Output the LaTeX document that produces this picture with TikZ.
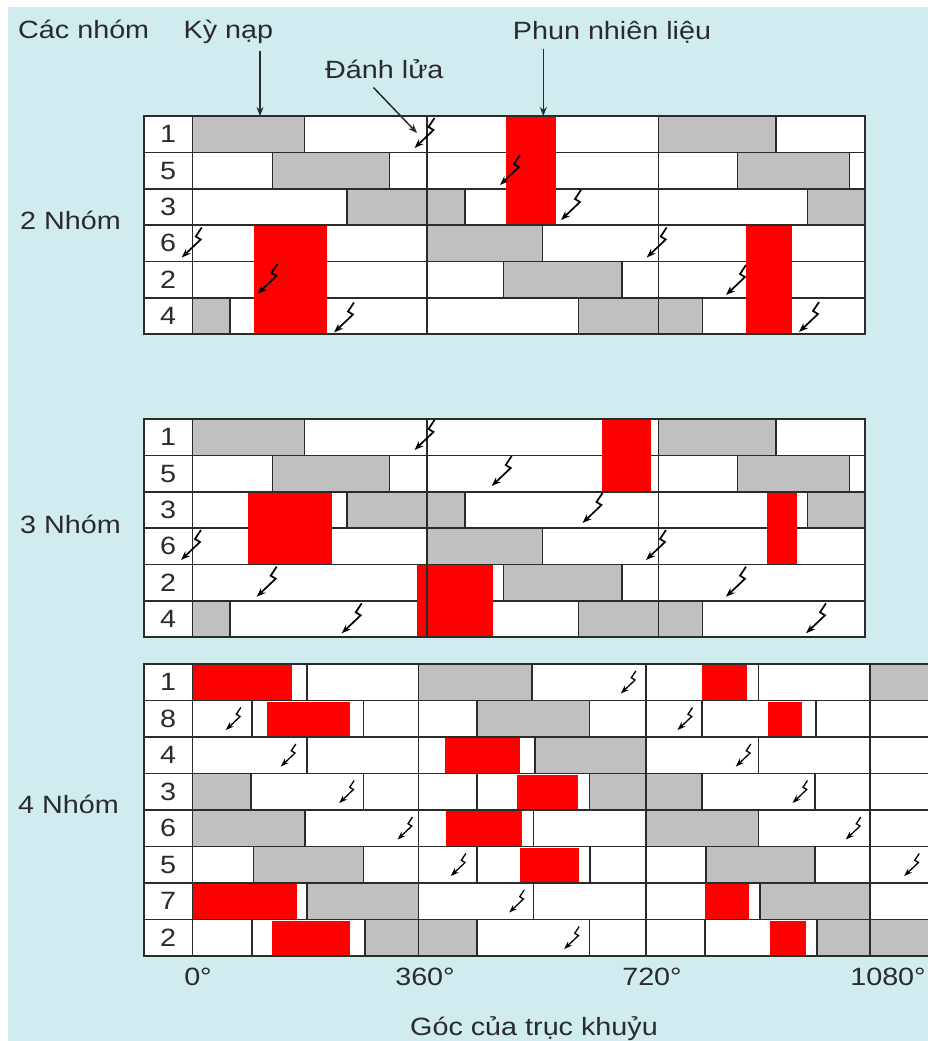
\documentclass[tikz,border=0pt]{standalone}
\usepackage{fontspec}
\setmainfont{Liberation Sans}[FakeStretch=1.15]
\usepackage{xcolor}
\definecolor{Sky}{HTML}{D0ECEF}
\definecolor{Ink}{HTML}{2B2B2B}
\definecolor{Grey}{HTML}{C0C0C0}
\definecolor{Fire}{HTML}{FF0000}
\colorlet{sky}{Sky}
\colorlet{ink}{Ink}
\colorlet{greyx}{Grey}
\colorlet{fire}{Fire}
\usepackage{tikz}
\usetikzlibrary{arrows.meta,positioning}
\tikzset{spark/.pic={\draw[black,-{Stealth[length=5pt 2.5,width=3pt 2.2]}] (10,-15)--(4,-6)--(9,-3)--(-10,15);}}

\begin{document}
\begin{tikzpicture}[x=1pt,y=-1pt,every node/.style={font=\fontsize{25}{30}\selectfont,text=ink,inner sep=0pt},
  cell/.style={draw=ink,line width=1.6pt},intake/.style={draw=ink,line width=1.6pt,fill=greyx},
  pointer/.style={ink,line width=1.5pt,-{Stealth[length=9pt,width=7pt]}}]
\useasboundingbox (0,0) rectangle (928,1041);
\fill[white] (0,0) rectangle (928,1041);
\fill[sky] (8,7) rectangle (928,1041);
% titles
\node[anchor=base west] (cac) at (18,38.3) {Các nhóm};
\node[base right=34pt of cac] (kyn) {Kỳ nạp};
\node[anchor=base west] (phun) at (512.7,40) {Phun nhiên liệu};
\node[anchor=base west] (danh) at (325,78) {Đánh lửa};
% 2 Nhóm and 3 Nhóm
\foreach \top/\g in {116/a,419/b}{
  \foreach \lab [count=\i from 0] in {1,5,3,6,2,4}{
    \draw[cell,fill=white] (144,\top+36.35*\i) rectangle (865,\top+36.35*\i+36.35);
    \node (\g\lab) at (168,\top+36.35*\i+18.2) {\lab};
  }
  \foreach \i/\xa/\xb in {0/192.3/304.3,0/658.3/776,1/272.3/389.3,1/737.3/849.3,2/346.7/465,2/807.3/865,3/426.7/542.3,4/503.3/621.7,5/192.3/230,5/578.3/702.3}
    \draw[intake] (\xa,\top+36.35*\i) rectangle (\xb,\top+36.35*\i+36.35);
}
\foreach \xa/\xb/\ya/\yb in {505.5/556/116/225.05,254/327.3/225.05/334.1,745.7/791.7/225.05/334.1,
  601.7/650.7/419/491.7,248.3/331.7/491.7/564.4,766.7/796.7/491.7/564.4,417.3/493.3/564.4/637.1}
  \fill[fire] (\xa,\ya+0.8) rectangle (\xb,\yb-0.8);
\foreach \top in {116,419}{
  \foreach \x in {192.3,426.7,658.3} \draw[cell] (\x,\top) -- (\x,\top+218.1);
}
\foreach \x/\y in {424.5/133,510/170,571/205,191.7/242.5,656.7/242.5,267.5/279,736/280,344/317.5,809/317,
  424.5/435,501.7/471,592.5/508,191/545,656/545,266.7/581.7,736/581.7,351.7/618.3,816/618.3}
  \pic[line width=1.7pt] at (\x,\y) {spark};
% 4 Nhóm
\foreach \lab [count=\i from 0] in {1,8,4,3,6,5,7,2}{
  \draw[cell,fill=white] (144,664+36.5*\i) rectangle (940,700.5+36.5*\i);
  \node (c\lab) at (168,682.25+36.5*\i) {\lab};
}
\foreach \i/\xa/\xb in {0/192.3/291.7,0/701.7/746.7,1/266.7/350,1/768.3/801.7,2/445/520,3/516.7/578.3,
  4/446/521.7,5/520/579.3,6/192.3/296.7,6/705/749.3,7/271.7/350,7/770/806}
  \fill[fire] (\xa,665+36.5*\i) rectangle (\xb,699.5+36.5*\i);
\foreach \i/\xa/\xb in {0/418.3/531.7,0/870/940,1/476.7/589.3,2/535/646,3/192.3/250.7,3/589.3/701.7,4/192.3/305,
  4/646/758.3,5/253.3/363.3,5/706/815,6/306.7/418.3,6/760/870,7/365/476.7,7/816.7/940}
  \draw[intake] (\xa,664+36.5*\i) rectangle (\xb,700.5+36.5*\i);
\foreach \i/\x in {0/306.7,0/418.3,0/646,0/758.3,0/870,1/251.7,1/363.3,1/418.3,1/646,1/701.7,1/816,1/870,
  2/306.7,2/418.3,2/758.3,2/870,3/363.3,3/418.3,3/476.7,3/646,3/815,3/870,4/418.3,4/533.3,4/646,4/870,
  5/418.3,5/476.7,5/590,5/646,5/870,6/418.3,6/533.3,6/646,6/870,7/251.7,7/418.3,7/476.7,7/589.3,7/646,7/705,7/870}
  \draw[cell] (\x,664+36.5*\i) -- (\x,700.5+36.5*\i);
\draw[cell] (192.3,664) -- (192.3,956);
\foreach \i/\x in {0/628.3,1/233.3,1/685,2/288.3,2/743.3,3/346.7,3/800,4/405,4/853.3,5/458.3,5/911.7,6/516.7,7/571.7}
  \pic[scale=0.75,line width=1.3pt] at (\x,682.25+36.5*\i) {spark};
% group names
\node[anchor=base west] (n2) at (20,229.3) {2 Nhóm};
\node[anchor=base west] (n3) at (20,533) {3 Nhóm};
\node[anchor=base west] (n4) at (18,813) {4 Nhóm};
% axis
\node (d0) at (198,977) {0°};
\node (d360) at (425,977) {360°};
\node (d720) at (652,977) {720°};
\node (d1080) at (888,977) {1080°};
\node[anchor=base] (axis) at (534,1035.5) {Góc của trục khuỷu};
% pointers
\coordinate (kyntip) at (260,116);
\coordinate (phuntip) at (543.3,116);
\coordinate (danhtip) at (417,133);
\draw[pointer] ([yshift=-7pt]kyn.south -| kyntip) -- (kyntip);
\draw[pointer] ([yshift=-5pt]phun.south -| phuntip) -- (phuntip);
\draw[pointer] ([shift={(-11,9)}]danh.south) -- (danhtip);
\end{tikzpicture}
\end{document}
